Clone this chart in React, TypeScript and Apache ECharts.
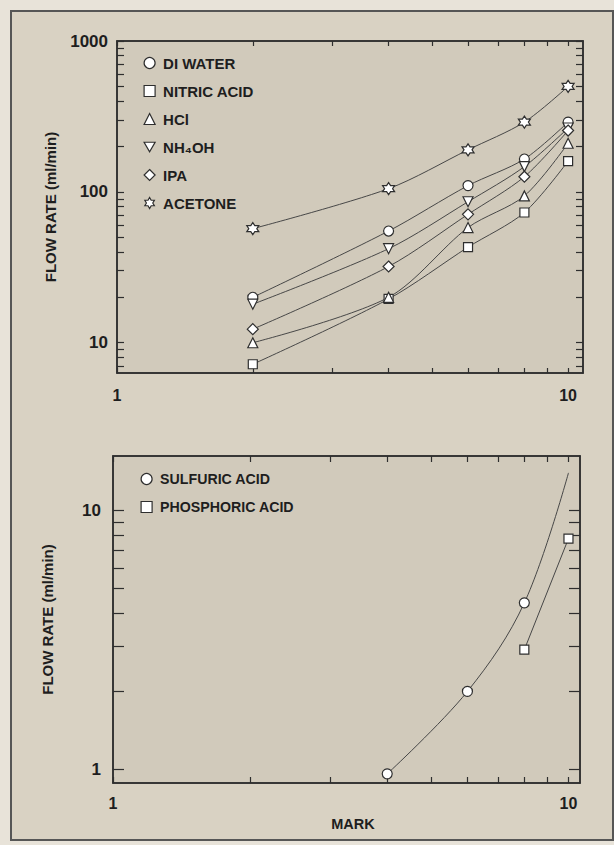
import { useEffect, useRef } from 'react';
import * as echarts from 'echarts';

// Flow rate against valve mark, log-log.
const MARKS = [2, 4, 6, 8, 10];
const DI_WATER = [20, 55, 110, 165, 290];
const NITRIC_ACID = [7.2, 19.5, 43, 73, 160];
const HCL = [10, 20, 58, 94, 210];
const NH4OH = [18, 42, 86, 147, 265];
const IPA = [12.3, 32, 71, 126, 255];
const ACETONE = [57, 105, 190, 290, 500];

// Viscous acids (lower panel); the sulfuric curve runs on to mark 10 without a marker there.
const SULFURIC_MARKS = [4, 6, 8, 10];
const SULFURIC_ACID = [0.96, 2.0, 4.4, 14];
const PHOSPHORIC_MARKS = [8, 10];
const PHOSPHORIC_ACID = [2.9, 7.8];

// Log-paper tick positions and labelled decades.
const X_TICKS = [1, 2, 3, 4, 5, 6, 7, 8, 9, 10];
const X_LABELS = [1, 10];
const UPPER_Y_TICKS = [7, 8, 9, 10, 20, 30, 40, 50, 60, 70, 80, 90, 100, 200, 300, 400, 500, 600, 700, 800, 900, 1000];
const UPPER_Y_LABELS = [10, 100, 1000];
const LOWER_Y_TICKS = [1, 2, 3, 4, 5, 6, 7, 8, 9, 10];
const LOWER_Y_LABELS = [1, 10];

const INK = '#2e2e2e';
const LINE = '#474747';
const FONT = "'Liberation Sans', Arial, sans-serif";

const DOWN_TRIANGLE = 'path://M0,0L10,0L5,8.66Z';
const HEXAGRAM =
  'path://M10,0L12.89,5L18.66,5L15.77,10L18.66,15L12.89,15L10,20L7.11,15L1.34,15L4.23,10L1.34,5L7.11,5Z';

const UPPER_SERIES = [
  { name: 'DI WATER', values: DI_WATER, symbol: 'circle', size: 10 },
  { name: 'NITRIC ACID', values: NITRIC_ACID, symbol: 'rect', size: 9 },
  { name: 'HCl', values: HCL, symbol: 'triangle', size: 10 },
  { name: 'NH₄OH', values: NH4OH, symbol: DOWN_TRIANGLE, size: 10 },
  { name: 'IPA', values: IPA, symbol: 'diamond', size: 11 },
  { name: 'ACETONE', values: ACETONE, symbol: HEXAGRAM, size: 12 },
];

const markerStyle = { color: '#ffffff', borderColor: INK, borderWidth: 1.2 };
const labelFormatter = (v: number) => String(Math.round(v));

function logAxis(
  gridIndex: number,
  min: number,
  max: number,
  position: string,
  ticks: number[],
  tickLength: number,
  labels: number[] | null,
  labelSize: number,
  labelMargin: number,
  extra: Record<string, unknown> = {}
) {
  return {
    type: 'log',
    logBase: 10,
    gridIndex,
    min,
    max,
    position,
    axisLine: { show: true, lineStyle: { color: INK, width: 1.5 } },
    axisTick: {
      show: true,
      inside: true,
      length: tickLength,
      customValues: ticks,
      lineStyle: { color: INK, width: 1.2 },
    },
    axisLabel: labels
      ? {
          show: true,
          customValues: labels,
          formatter: labelFormatter,
          margin: labelMargin,
          fontFamily: FONT,
          fontWeight: 'bold',
          fontSize: labelSize,
          color: '#1e1e1e',
        }
      : { show: false },
    splitLine: { show: false },
    minorTick: { show: false },
    ...extra,
  };
}

export default function App() {
  const ref = useRef<HTMLDivElement>(null);

  useEffect(() => {
    if (!ref.current) return;
    const chart = echarts.init(ref.current, undefined, { renderer: 'svg' });

    const upperSeries = UPPER_SERIES.map((s) => ({
      type: 'line',
      name: s.name,
      xAxisIndex: 0,
      yAxisIndex: 0,
      data: MARKS.map((m, i) => [m, s.values[i]]),
      smooth: 0.3,
      symbol: s.symbol,
      symbolSize: s.size,
      showSymbol: true,
      lineStyle: { color: LINE, width: 1 },
      itemStyle: markerStyle,
      emphasis: { disabled: true },
      silent: true,
    }));

    const lowerSeries = [
      {
        type: 'line',
        name: 'SULFURIC ACID',
        xAxisIndex: 2,
        yAxisIndex: 2,
        data: SULFURIC_MARKS.map((m, i) =>
          i === SULFURIC_MARKS.length - 1
            ? { value: [m, SULFURIC_ACID[i]], symbol: 'none' }
            : [m, SULFURIC_ACID[i]]
        ),
        smooth: 0.35,
        symbol: 'circle',
        symbolSize: 10,
        lineStyle: { color: LINE, width: 1 },
        itemStyle: markerStyle,
        emphasis: { disabled: true },
        silent: true,
      },
      {
        type: 'line',
        name: 'PHOSPHORIC ACID',
        xAxisIndex: 2,
        yAxisIndex: 2,
        data: PHOSPHORIC_MARKS.map((m, i) => [m, PHOSPHORIC_ACID[i]]),
        symbol: 'rect',
        symbolSize: 9,
        lineStyle: { color: LINE, width: 1 },
        itemStyle: markerStyle,
        emphasis: { disabled: true },
        silent: true,
      },
    ];

    const legendText = (size: number) => ({
      fontFamily: FONT,
      fontWeight: 'bold',
      fontSize: size,
      color: '#1e1e1e',
      lineHeight: 16,
      padding: [0, 0, 0, 3],
    });

    const axisName = {
      fontFamily: FONT,
      fontWeight: 'bold',
      fontSize: 15,
      color: '#1e1e1e',
    };

    chart.setOption({
      animation: false,
      backgroundColor: '#e8e3d9',
      graphic: [
        {
          type: 'rect',
          z: -5,
          silent: true,
          shape: { x: 11, y: 11, width: 602, height: 829 },
          style: { fill: '#d9d2c3', stroke: '#565656', lineWidth: 2 },
        },
      ],
      grid: [
        {
          left: 117,
          top: 41,
          width: 466,
          height: 332,
          show: true,
          backgroundColor: '#d1cabb',
          borderColor: INK,
          borderWidth: 1.5,
        },
        {
          left: 113,
          top: 456,
          width: 467,
          height: 327,
          show: true,
          backgroundColor: '#d1cabb',
          borderColor: INK,
          borderWidth: 1.5,
        },
      ],
      xAxis: [
        logAxis(0, 1, 10.79, 'bottom', X_TICKS, 5, X_LABELS, 16, 14),
        logAxis(0, 1, 10.79, 'top', X_TICKS, 5, null, 0, 0),
        logAxis(1, 1, 10.6, 'bottom', X_TICKS, 6, X_LABELS, 16, 12, {
          name: 'MARK',
          nameLocation: 'middle',
          nameGap: 33,
          nameTextStyle: { ...axisName, fontSize: 14.5, padding: [0, 0, 0, 13] },
        }),
        logAxis(1, 1, 10.6, 'top', X_TICKS, 6, null, 0, 0),
      ],
      yAxis: [
        logAxis(0, 6.3, 1000, 'left', UPPER_Y_TICKS, 7, UPPER_Y_LABELS, 17, 9, {
          name: 'FLOW RATE (ml/min)',
          nameLocation: 'middle',
          nameGap: 59,
          nameTextStyle: axisName,
        }),
        logAxis(0, 6.3, 1000, 'right', UPPER_Y_TICKS, 7, null, 0, 0),
        logAxis(1, 0.885, 16.27, 'left', LOWER_Y_TICKS, 11, LOWER_Y_LABELS, 17, 12, {
          name: 'FLOW RATE (ml/min)',
          nameLocation: 'middle',
          nameGap: 58,
          nameTextStyle: axisName,
        }),
        logAxis(1, 0.885, 16.27, 'right', LOWER_Y_TICKS, 11, null, 0, 0),
      ],
      legend: [
        {
          orient: 'vertical',
          left: 143.5,
          top: 55,
          padding: 0,
          itemWidth: 11,
          itemHeight: 11,
          itemGap: 12,
          selectedMode: false,
          data: UPPER_SERIES.map((s) => ({ name: s.name, icon: s.symbol })),
          itemStyle: markerStyle,
          textStyle: legendText(15),
        },
        {
          orient: 'vertical',
          left: 140.5,
          top: 471,
          padding: 0,
          itemWidth: 11,
          itemHeight: 11,
          itemGap: 12,
          selectedMode: false,
          data: [
            { name: 'SULFURIC ACID', icon: 'circle' },
            { name: 'PHOSPHORIC ACID', icon: 'rect' },
          ],
          itemStyle: markerStyle,
          textStyle: legendText(14.2),
        },
      ],
      series: [...upperSeries, ...lowerSeries],
    });

    return () => chart.dispose();
  }, []);

  return (
    <div
      ref={ref}
      style={{ position: 'absolute', left: 0, top: 0, width: 614, height: 845 }}
    />
  );
}
